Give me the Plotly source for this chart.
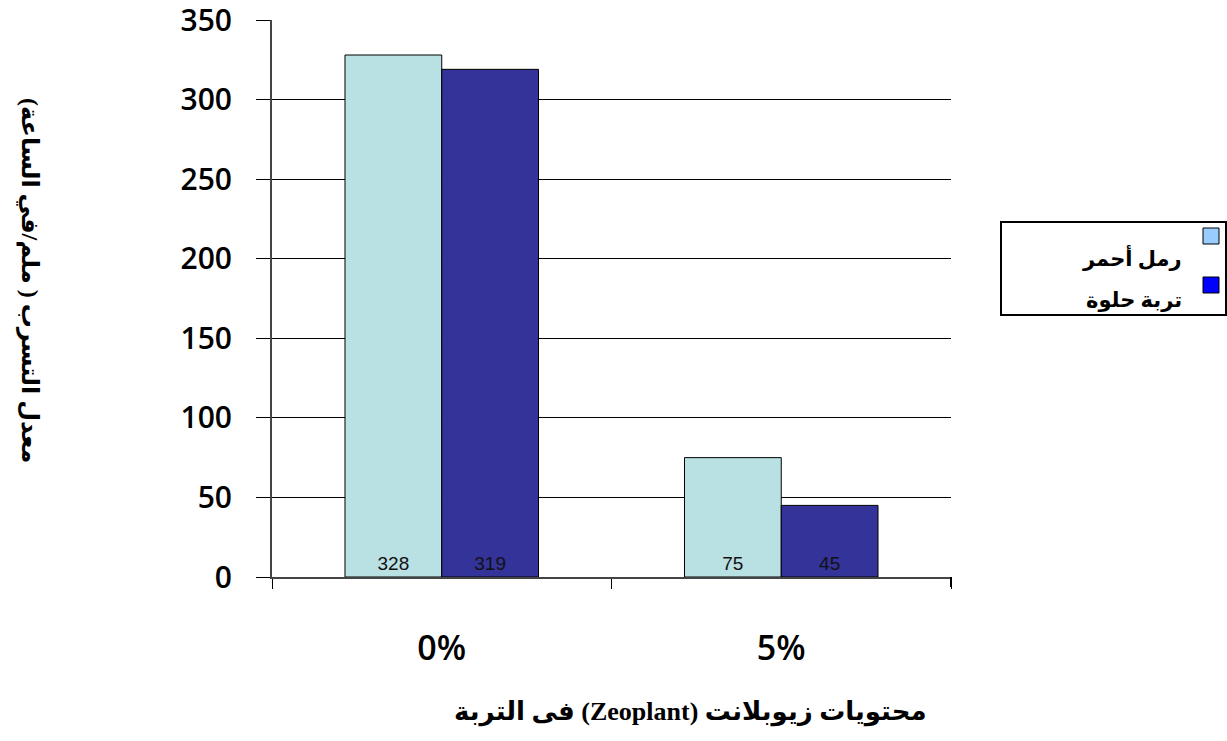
import plotly.graph_objects as go

categories = ["0%", "5%"]
series_names = ["رمل أحمر", "تربة حلوة"]
red_sand = [328, 75]
sweet_soil = [319, 45]
y_ticks = [0, 50, 100, 150, 200, 250, 300, 350]

bar_colors = ["#B9E0E3", "#333399"]
legend_colors = ["#99CCFF", "#0000FF"]

fig = go.Figure()
for name, vals, col in zip(series_names, [red_sand, sweet_soil], bar_colors):
    fig.add_trace(go.Bar(
        x=categories, y=vals, name=name,
        marker=dict(color=col, line=dict(color="#000000", width=1)),
        text=[str(v) for v in vals], textposition="inside",
        insidetextanchor="start", textangle=0,
        insidetextfont=dict(family="Liberation Sans Narrow, Liberation Sans, Arial", size=19, color="#111111"),
        showlegend=False,
    ))

fig.update_layout(
    width=1227, height=741,
    margin=dict(l=272, r=276, t=20, b=164, autoexpand=False),
    paper_bgcolor="white", plot_bgcolor="white",
    barmode="group", bargap=0.43, bargroupgap=0,
    showlegend=False,
)
fig.update_yaxes(
    range=[0, 350], tickvals=y_ticks, ticks="outside", ticklen=14, tickcolor="#000",
    showgrid=True, gridcolor="#000", gridwidth=1,
    showline=True, linecolor="#444", linewidth=2, zeroline=False,
    tickfont=dict(family="Open Sans, Liberation Sans, Arial", size=30, color="#000", weight=600),
    ticklabelstandoff=18, ticklabeloverflow="allow", automargin=False,
)
fig.update_xaxes(
    ticks="outside", ticklen=10, tickcolor="#000", tickson="boundaries",
    showline=True, linecolor="#444", linewidth=2,
    tickfont=dict(family="Open Sans, Liberation Sans, Arial", size=34, color="#000", weight=600),
    ticklabelstandoff=40, ticklabeloverflow="allow", automargin=False,
    range=[-0.5, 1.5],
)
fig.add_shape(type="line", xref="paper", yref="paper", x0=1, x1=1, y0=0, y1=-0.018,
              line=dict(color="#000", width=2))

def px_x(p):
    return (p - 272) / 679
def px_y(p):
    return (577 - p) / 557

arabic_font = "Liberation Serif, DejaVu Sans, Times New Roman"
fig.add_annotation(text="<b>\u202bمحتويات زيوبلانت (Zeoplant) فى التربة\u202c</b>", xref="paper", yref="paper",
                   x=px_x(690), y=px_y(712), showarrow=False,
                   font=dict(family=arabic_font, size=26, color="#000"),
                   xanchor="center", yanchor="middle")
fig.add_annotation(text="<b>\u202bمعدل التسرب ( ملم/في الساعة)\u202c</b>", xref="paper", yref="paper",
                   x=px_x(30), y=px_y(280), showarrow=False,
                   font=dict(family=arabic_font, size=24, color="#000"),
                   textangle=90, xanchor="center", yanchor="middle")

# legend box
fig.add_shape(type="rect", xref="paper", yref="paper", x0=px_x(1001), x1=px_x(1226), y0=px_y(222), y1=px_y(315),
              line=dict(color="#000", width=2), fillcolor="white")
swatch_y = [236, 285]
label_y = [257, 300]
for name, col, sy, ly in zip(series_names, legend_colors, swatch_y, label_y):
    fig.add_shape(type="rect", xref="paper", yref="paper", x0=px_x(1203), x1=px_x(1219), y0=px_y(sy - 8), y1=px_y(sy + 8),
                  line=dict(color="#000", width=1), fillcolor=col)
    fig.add_annotation(text="<b>" + name + "</b>", xref="paper", yref="paper", x=px_x(1184), y=px_y(ly),
                       showarrow=False, xanchor="right", yanchor="middle",
                       font=dict(family=arabic_font, size=21, color="#000"))

fig.write_html("out.html")
